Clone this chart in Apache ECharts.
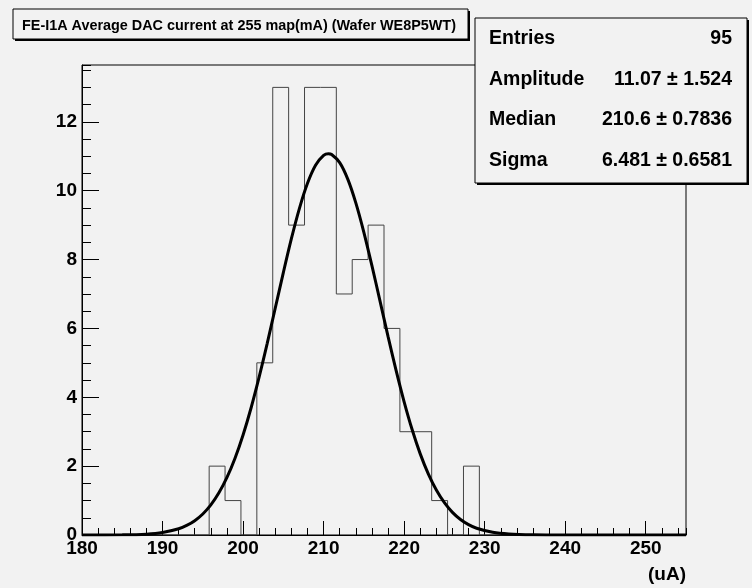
<!DOCTYPE html>
<html><head><meta charset="utf-8">
<script src="https://cdn.jsdelivr.net/npm/echarts@6/dist/echarts.min.js"></script>
<style>html,body{margin:0;padding:0;background:#f2f2f2;}#c{width:752px;height:588px;}</style>
</head><body><div id="c"></div>
<script>
// ---- data ----
const titleText = 'FE-I1A Average DAC current at 255 map(mA) (Wafer WE8P5WT)';
const xAxisTitle = '(uA)';
const xMin = 180, xMax = 255, nBins = 38;
const yMax = 13.65;
const counts = [0,0,0,0,0,0,0,0, 2,1,0,5,13,9,13,13,7,8,9,6,3,3,1,0,2, 0,0,0,0,0,0,0,0,0,0,0,0,0];
const xTickLabels = [180,190,200,210,220,230,240,250];
const yTickLabels = [0,2,4,6,8,10,12];
// fit curve
const curveX = [180,185,188,190,192,193,194,195,196,197,198,199,200,201,202,203,204,205,206,207,208,209,210,210.6,211,212,213,214,215,216,217,218,219,220,221,222,223,224,225,226,227,228,229,231,233,236,240,245,255];
const curveY = [0,0.005,0.025,0.071,0.18,0.277,0.416,0.611,0.875,1.225,1.672,2.231,2.906,3.696,4.59,5.566,6.592,7.621,8.605,9.487,10.214,10.738,11.023,11.07,11.049,10.815,10.336,9.647,8.792,7.823,6.798,5.768,4.779,3.867,3.055,2.356,1.775,1.306,0.938,0.658,0.45,0.301,0.197,0.078,0.028,0.005,0,0,0];
const statsLabels = ['Entries','Amplitude','Median','Sigma'];
const statsValues = ['95','11.07 \u00b1 1.524','210.6 \u00b1 0.7836','6.481 \u00b1 0.6581'];

// ---- build ----
const binW = (xMax - xMin) / nBins;
const histPts = [[xMin, 0]];
counts.forEach((c, k) => {
  const lo = xMin + k * binW, hi = lo + binW;
  histPts.push([lo, c], [hi, c]);
});
histPts.push([xMax, 0]);
const curvePts = curveX.map((x, i) => [x, curveY[i]]);

const FONT = '"Liberation Sans", Arial, Helvetica, sans-serif';
const gridL = 82, gridT = 65, gridR = 686, gridB = 535;

const chart = echarts.init(document.getElementById('c'), null, {renderer: 'canvas'});
const statsRowY = [39, 80, 120, 161];
const graphics = [
  // title box
  {type: 'rect', shape: {x: 15, y: 11, width: 455, height: 30}, style: {fill: '#000'}, z: 10},
  {type: 'rect', shape: {x: 13, y: 9, width: 455, height: 30}, style: {fill: '#f2f2f2', stroke: '#000', lineWidth: 1}, z: 11},
  {type: 'text', x: 22, y: 26, style: {text: titleText, font: 'bold 14.4px ' + FONT, fill: '#000', textVerticalAlign: 'middle', verticalAlign: 'middle'}, z: 12},
  // stats box
  {type: 'rect', shape: {x: 477, y: 20, width: 272, height: 165}, style: {fill: '#000'}, z: 10},
  {type: 'rect', shape: {x: 475, y: 18, width: 272, height: 165}, style: {fill: '#f2f2f2', stroke: '#000', lineWidth: 1}, z: 11}
];
statsLabels.forEach((t, i) => {
  graphics.push({type: 'text', x: 489, y: statsRowY[i], style: {text: t, font: 'bold 19.5px ' + FONT, fill: '#000', verticalAlign: 'middle', textVerticalAlign: 'middle'}, z: 12});
  graphics.push({type: 'text', x: 732, y: statsRowY[i], style: {text: statsValues[i], font: 'bold 19.5px ' + FONT, fill: '#000', align: 'right', textAlign: 'right', verticalAlign: 'middle', textVerticalAlign: 'middle'}, z: 12});
});
graphics.push({type: 'text', x: 686, y: 575, style: {text: xAxisTitle, font: 'bold 19px ' + FONT, fill: '#000', align: 'right', textAlign: 'right', verticalAlign: 'middle', textVerticalAlign: 'middle'}, z: 12});

const labelStyle = {fontSize: 19, fontWeight: 'bold', color: '#000', fontFamily: FONT};
chart.setOption({
  animation: false,
  backgroundColor: '#f2f2f2',
  grid: {left: gridL, top: gridT, right: 752 - gridR, bottom: 588 - gridB, show: true, borderColor: '#000', borderWidth: 1, backgroundColor: 'transparent'},
  xAxis: [
    {type: 'value', min: xMin, max: xMax, interval: 10, position: 'bottom',
      axisLine: {show: true, lineStyle: {color: '#000', width: 1}},
      axisTick: {show: true, inside: true, length: 14, lineStyle: {color: '#000', width: 1}},
      axisLabel: Object.assign({margin: 4, showMaxLabel: false, formatter: v => xTickLabels.includes(v) ? String(v) : ''}, labelStyle),
      splitLine: {show: false}},
    {type: 'value', min: xMin, max: xMax, interval: 2, position: 'bottom', offset: 0,
      axisLine: {show: false},
      axisTick: {show: true, inside: true, length: 7, lineStyle: {color: '#000', width: 1}},
      axisLabel: {show: false}, splitLine: {show: false}}
  ],
  yAxis: [
    {type: 'value', min: 0, max: yMax, interval: 2, position: 'left',
      axisLine: {show: true, lineStyle: {color: '#000', width: 1}},
      axisTick: {show: true, inside: true, length: 17, lineStyle: {color: '#000', width: 1}},
      axisLabel: Object.assign({margin: 5, showMaxLabel: false, formatter: v => yTickLabels.includes(v) ? String(v) : ''}, labelStyle),
      splitLine: {show: false}},
    {type: 'value', min: 0, max: yMax, interval: 0.5, position: 'left', offset: 0,
      axisLine: {show: false},
      axisTick: {show: true, inside: true, length: 9, lineStyle: {color: '#000', width: 1}},
      axisLabel: {show: false}, splitLine: {show: false}}
  ],
  series: [
    {type: 'line', data: histPts, xAxisIndex: 0, yAxisIndex: 0, symbol: 'none', lineStyle: {color: '#444', width: 1}, z: 3},
    {type: 'line', data: curvePts, xAxisIndex: 0, yAxisIndex: 0, symbol: 'none', smooth: 0.3, lineStyle: {color: '#000', width: 3}, z: 4}
  ],
  graphic: graphics
});
</script></body></html>
